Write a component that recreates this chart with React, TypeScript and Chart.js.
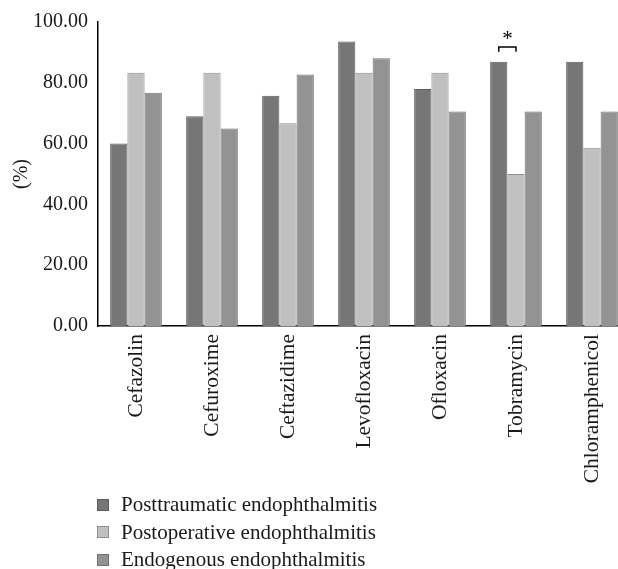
import React, { useEffect, useRef } from "react";
import { Chart, registerables } from "chart.js";

Chart.register(...registerables);

const categories = ["Cefazolin", "Cefuroxime", "Ceftazidime", "Levofloxacin", "Ofloxacin", "Tobramycin", "Chloramphenicol"];
const seriesNames = ["Posttraumatic endophthalmitis", "Postoperative endophthalmitis", "Endogenous endophthalmitis"];
const posttraumatic = [60.0, 69.0, 75.7, 93.6, 78.0, 86.9, 86.9];
const postoperative = [83.3, 83.3, 66.7, 83.3, 83.3, 50.0, 58.6];
const endogenous = [76.7, 65.0, 82.7, 88.1, 70.6, 70.6, 70.6];
const yTicks = [0, 20, 40, 60, 80, 100];
const fills = ["#767676", "#c0c0c0", "#939393"];
const borders = ["#5c5c5c", "#8e8e8e", "#707070"];
const bracketCategory = 5;
const bracketValueTop = 91.8;
const bracketValueLeg = 90.2;

const FONT = "'Liberation Serif', 'Times New Roman', serif";

const bracketPlugin = {
  id: "bracket",
  afterDatasetsDraw(chart: any) {
    const a = chart.getDatasetMeta(0).data[bracketCategory];
    const b = chart.getDatasetMeta(1).data[bracketCategory];
    if (!a || !b) return;
    const y = chart.scales.y;
    const yTop = y.getPixelForValue(bracketValueTop);
    const yLeg = y.getPixelForValue(bracketValueLeg);
    const ctx = chart.ctx;
    ctx.save();
    ctx.strokeStyle = "#000";
    ctx.lineWidth = 1.5;
    ctx.beginPath();
    ctx.moveTo(a.x, yLeg);
    ctx.lineTo(a.x, yTop);
    ctx.lineTo(b.x, yTop);
    ctx.lineTo(b.x, yLeg);
    ctx.stroke();
    ctx.fillStyle = "#000";
    ctx.font = `21px ${FONT}`;
    ctx.textAlign = "center";
    ctx.textBaseline = "alphabetic";
    ctx.fillText("*", (a.x + b.x) / 2, yTop - 2);
    ctx.restore();
  },
};

export default function App() {
  const ref = useRef<HTMLCanvasElement>(null);

  useEffect(() => {
    if (!ref.current) return;
    const data = [posttraumatic, postoperative, endogenous];
    const chart = new Chart(ref.current, {
      type: "bar",
      data: {
        labels: categories,
        datasets: data.map((d, i) => ({
          label: seriesNames[i],
          data: d,
          backgroundColor: fills[i],
          borderColor: borders[i],
          borderWidth: 1,
          categoryPercentage: 0.68,
          barPercentage: 1.0,
        })),
      },
      options: {
        responsive: false,
        animation: false,
        layout: { padding: { left: 0, top: 20, right: 10, bottom: 0 } },
        plugins: {
          legend: { display: false },
          tooltip: { enabled: false },
        },
        scales: {
          x: {
            grid: { display: false, drawTicks: false },
            border: { display: true, color: "#000", width: 1.5 },
            ticks: {
              color: "#1a1a1a",
              font: { family: FONT, size: 21.5 },
              maxRotation: 90,
              minRotation: 90,
              padding: 8,
              autoSkip: false,
            },
            afterFit: (s: any) => {
              s.height = 243;
            },
          },
          y: {
            min: 0,
            max: 100,
            grid: { display: false, drawTicks: false },
            border: { display: true, color: "#000", width: 1.5 },
            afterBuildTicks: (s: any) => {
              s.ticks = yTicks.map((v) => ({ value: v }));
            },
            ticks: {
              color: "#1a1a1a",
              font: { family: FONT, size: 20 },
              padding: 10,
              callback: (v: any) => Number(v).toFixed(2),
            },
            title: {
              display: true,
              text: "(%)",
              color: "#1a1a1a",
              font: { family: FONT, size: 20 },
              padding: { top: 10, bottom: 0 },
            },
            afterFit: (s: any) => {
              s.width = 98;
            },
          },
        },
      },
      plugins: [bracketPlugin],
    });
    return () => chart.destroy();
  }, []);

  return (
    <div style={{ position: "fixed", left: 0, top: 0, width: 618, height: 569, overflow: "hidden", background: "#fff" }}>
      <canvas ref={ref} width={640} height={569} style={{ display: "block" }} />
      <div style={{ position: "absolute", left: 97, top: 491, fontFamily: FONT, fontSize: 21, color: "#1a1a1a" }}>
        {seriesNames.map((n, i) => (
          <div key={n} style={{ display: "flex", alignItems: "center", height: 27.5 }}>
            <span
              style={{
                display: "inline-block",
                width: 10,
                height: 10,
                background: fills[i],
                border: `1px solid ${borders[i]}`,
                marginRight: 12,
                flexShrink: 0,
              }}
            />
            <span style={{ whiteSpace: "nowrap" }}>{n}</span>
          </div>
        ))}
      </div>
    </div>
  );
}
